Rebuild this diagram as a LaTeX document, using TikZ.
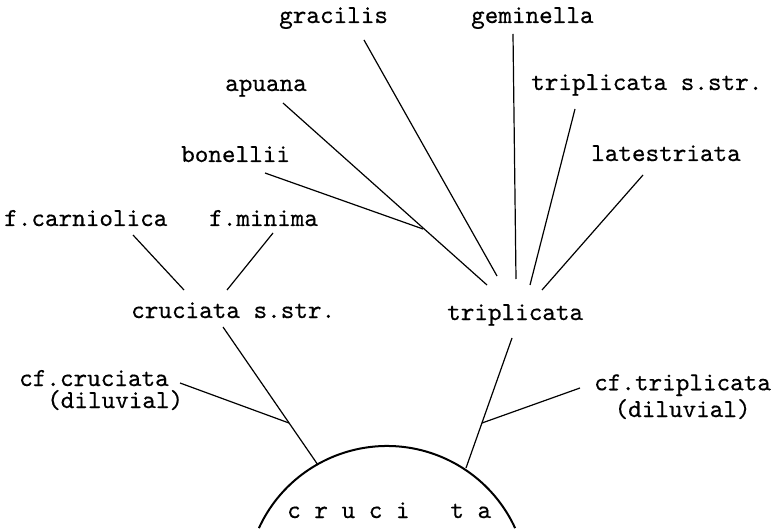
\documentclass[tikz,border=0pt]{standalone}
\usepackage{fontspec}
\newfontfamily\twfont[FakeBold=0.4]{lmmono10-regular.otf}
\newcommand\lbfont{\fontsize{25.9}{22}\selectfont\twfont}
\begin{document}
\begin{tikzpicture}[x=1pt,y=-1pt,
  lbl/.style={inner sep=0pt, anchor=base west, font=\lbfont},
  branch/.style={line width=1.2pt},
  stem/.style={line width=2pt}]
\useasboundingbox (0,0) rectangle (781,529);
% labels
\node[lbl] (gracilis) at (279,23) {gracilis};
\node[lbl] (geminella) at (471,23) {geminella};
\node[lbl] (apuana) at (225,91) {apuana};
\node[lbl] (tss) at (531,90) {triplicata s.str.};
\node[lbl] (bonellii) at (181,162) {bonellii};
\node[lbl] (latestriata) at (591,161) {latestriata};
\node[lbl] (carniolica) at (4,226) {f.carniolica};
\node[lbl] (minima) at (209,226) {f.minima};
\node[lbl] (css) at (131,318) {cruciata s.str.};
\node[lbl] (tripl) at (447,320) {triplicata};
\node[lbl, align=left] (cfcr) at (19,408) {cf.cruciata\\\hspace*{28pt}(diluvial)};
\node[lbl, align=center] (cftr) at (594,417) {cf.triplicata\\[2pt](diluvial)};
\node[lbl] (cruciata) at (287,518) {c~r~u~c~i~~~t~a};
% connector end points
\coordinate (gracilis-f) at (364,40);
\coordinate (geminella-f) at (513,34);
\coordinate (apuana-f) at (283,103);
\coordinate (tss-f) at (575,109);
\coordinate (bonellii-f) at (265,173);
\coordinate (latestriata-f) at (643,175);
\coordinate (carniolica-f) at (133,235);
\coordinate (minima-f) at (273,233);
\coordinate (css-top) at (184,290);
\coordinate (css-top2) at (227,290);
\coordinate (css-f) at (223,327);
\coordinate (tripl-f) at (512,338);
\coordinate (cfcr-f) at (180,383);
\coordinate (cftr-f) at (580,388);
\coordinate (j-gracilis) at (497,276);
\coordinate (j-geminella) at (516,279);
\coordinate (j-apuana) at (487,285);
\coordinate (j-bonellii) at (423,229);
\coordinate (j-tss) at (530,285);
\coordinate (j-latestriata) at (542,290);
\coordinate (j-cfcr) at (289,423);
\coordinate (j-cftr) at (482,423);
\coordinate (arc-c) at (318,465);
\coordinate (arc-t) at (466,468);
% base arc
\coordinate (centre) at (387,587);
\draw[stem] (centre) ++(204.7:141) arc[start angle=204.7, end angle=335.3, radius=141];
% connectors
\draw[branch] (gracilis-f) -- (j-gracilis);
\draw[branch] (geminella-f) -- (j-geminella);
\draw[branch] (apuana-f) -- (j-apuana);
\draw[branch] (bonellii-f) -- (j-bonellii);
\draw[branch] (tss-f) -- (j-tss);
\draw[branch] (latestriata-f) -- (j-latestriata);
\draw[branch] (carniolica-f) -- (css-top);
\draw[branch] (minima-f) -- (css-top2);
\draw[branch] (css-f) -- (arc-c);
\draw[branch] (cfcr-f) -- (j-cfcr);
\draw[branch] (tripl-f) -- (arc-t);
\draw[branch] (cftr-f) -- (j-cftr);
\end{tikzpicture}
\end{document}
